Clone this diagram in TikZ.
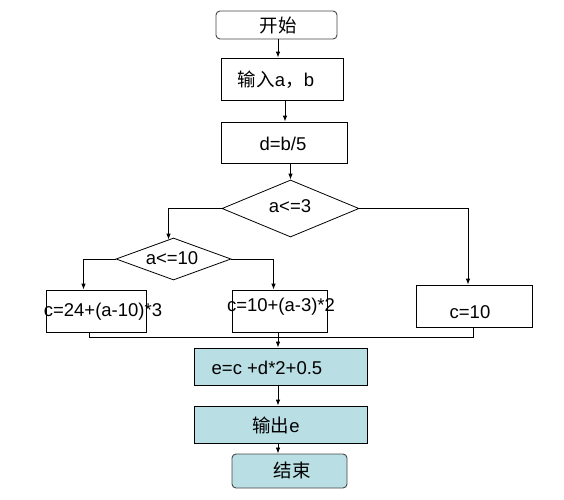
\documentclass[tikz,border=0pt]{standalone}
\usepackage{fontspec}
\setmainfont{Liberation Sans}
\newfontfamily\cjk{Noto Sans CJK SC}
\usetikzlibrary{shapes.geometric,arrows.meta}
\definecolor{fillblue}{RGB}{185,222,228}
\definecolor{edgegray}{RGB}{70,70,70}
\begin{document}
\begin{tikzpicture}[x=1pt,y=-1pt,
  font=\fontsize{18.5}{21}\selectfont,
  box/.style={draw=black, line width=0.8pt, inner sep=0pt},
  roundbox/.style={draw=edgegray, line width=0.9pt, rounded corners=4pt, inner sep=0pt},
  decision/.style={draw=black, line width=0.8pt, diamond, inner sep=0pt},
  bluefill/.style={fill=fillblue},
  txt/.style={inner sep=0pt},
  arr/.style={line width=0.8pt, -{Latex[length=6pt,width=4.5pt]}},
  ln/.style={line width=0.8pt}]
\useasboundingbox (0,0) rectangle (564,499);
% nodes
\node[roundbox, fill=white, minimum width=121pt, minimum height=28pt] (start) at (276.5,25) {};
\node[txt] (tstart) at (278,25) {\cjk 开始};
\node[box, minimum width=122pt, minimum height=42pt] (in) at (282,79) {};
\node[txt] (tin) at (276,80) {{\cjk 输入}a{\cjk ，}b};
\node[box, minimum width=126pt, minimum height=41pt] (d) at (284,142.5) {};
\node[txt] (td) at (283,144) {d=b/5};
\node[decision, shape aspect=2.4, minimum width=137pt, minimum height=57pt] (d1) at (290.5,208.5) {};
\node[txt] (td1) at (290,206) {a<=3};
\node[decision, shape aspect=2.75, minimum width=115pt, minimum height=42pt] (d2) at (173.5,259) {};
\node[txt] (td2) at (172,258) {a<=10};
\node[box, minimum width=100pt, minimum height=42pt] (c1) at (96.5,311) {};
\node[txt] (tc1) at (103,312) {c=24+(a-10)*3};
\node[box, minimum width=95pt, minimum height=42pt] (c2) at (279.5,311) {};
\node[txt] (tc2) at (281,307) {c=10+(a-3)*2};
\node[box, minimum width=116pt, minimum height=42pt] (c3) at (474,306) {};
\node[txt] (tc3) at (470,312) {c=10};
\node[box, bluefill, minimum width=173pt, minimum height=37pt] (e) at (280.5,366.5) {};
\node[txt] (te) at (267,368) {e=c +d*2+0.5};
\node[box, bluefill, minimum width=173pt, minimum height=37pt] (out) at (280.5,424.5) {};
\node[txt] (tout) at (276,425) {{\cjk 输出}e};
\node[roundbox, bluefill, minimum width=115pt, minimum height=34pt] (end) at (289.5,471) {};
\node[txt] (tend) at (292,470) {\cjk 结束};
\coordinate (m) at (278,337);
% connectors
\draw[arr] ([xshift=1.5pt]start.south) -- ([xshift=-4pt]in.north);
\draw[arr] ([xshift=3pt]in.south) -- ([xshift=1pt]d.north);
\draw[arr] ([xshift=6.5pt]d.south) -- (d1.north);
\draw[arr] (d1.west) -| ([xshift=-5pt,yshift=-2pt]d2.north);
\draw[arr] (d2.west) -| ([xshift=-13pt]c1.north);
\draw[arr] (d2.east) -| ([xshift=-6pt]c2.north);
\draw[arr] (d1.east) -| ([xshift=-6pt]c3.north);
\draw[ln] ([xshift=-7.5pt]c1.south) |- (m) -| ([xshift=-1pt]c3.south);
\draw[ln] ([xshift=-1.5pt]c2.south) -- (m);
\draw[arr] (m) -- ([xshift=-2.5pt]e.north);
\draw[arr] ([xshift=-2.5pt]e.south) -- ([xshift=-2.5pt]out.north);
\draw[arr] ([xshift=-2.5pt]out.south) -- ([xshift=-11.5pt]end.north);
\end{tikzpicture}
\end{document}
